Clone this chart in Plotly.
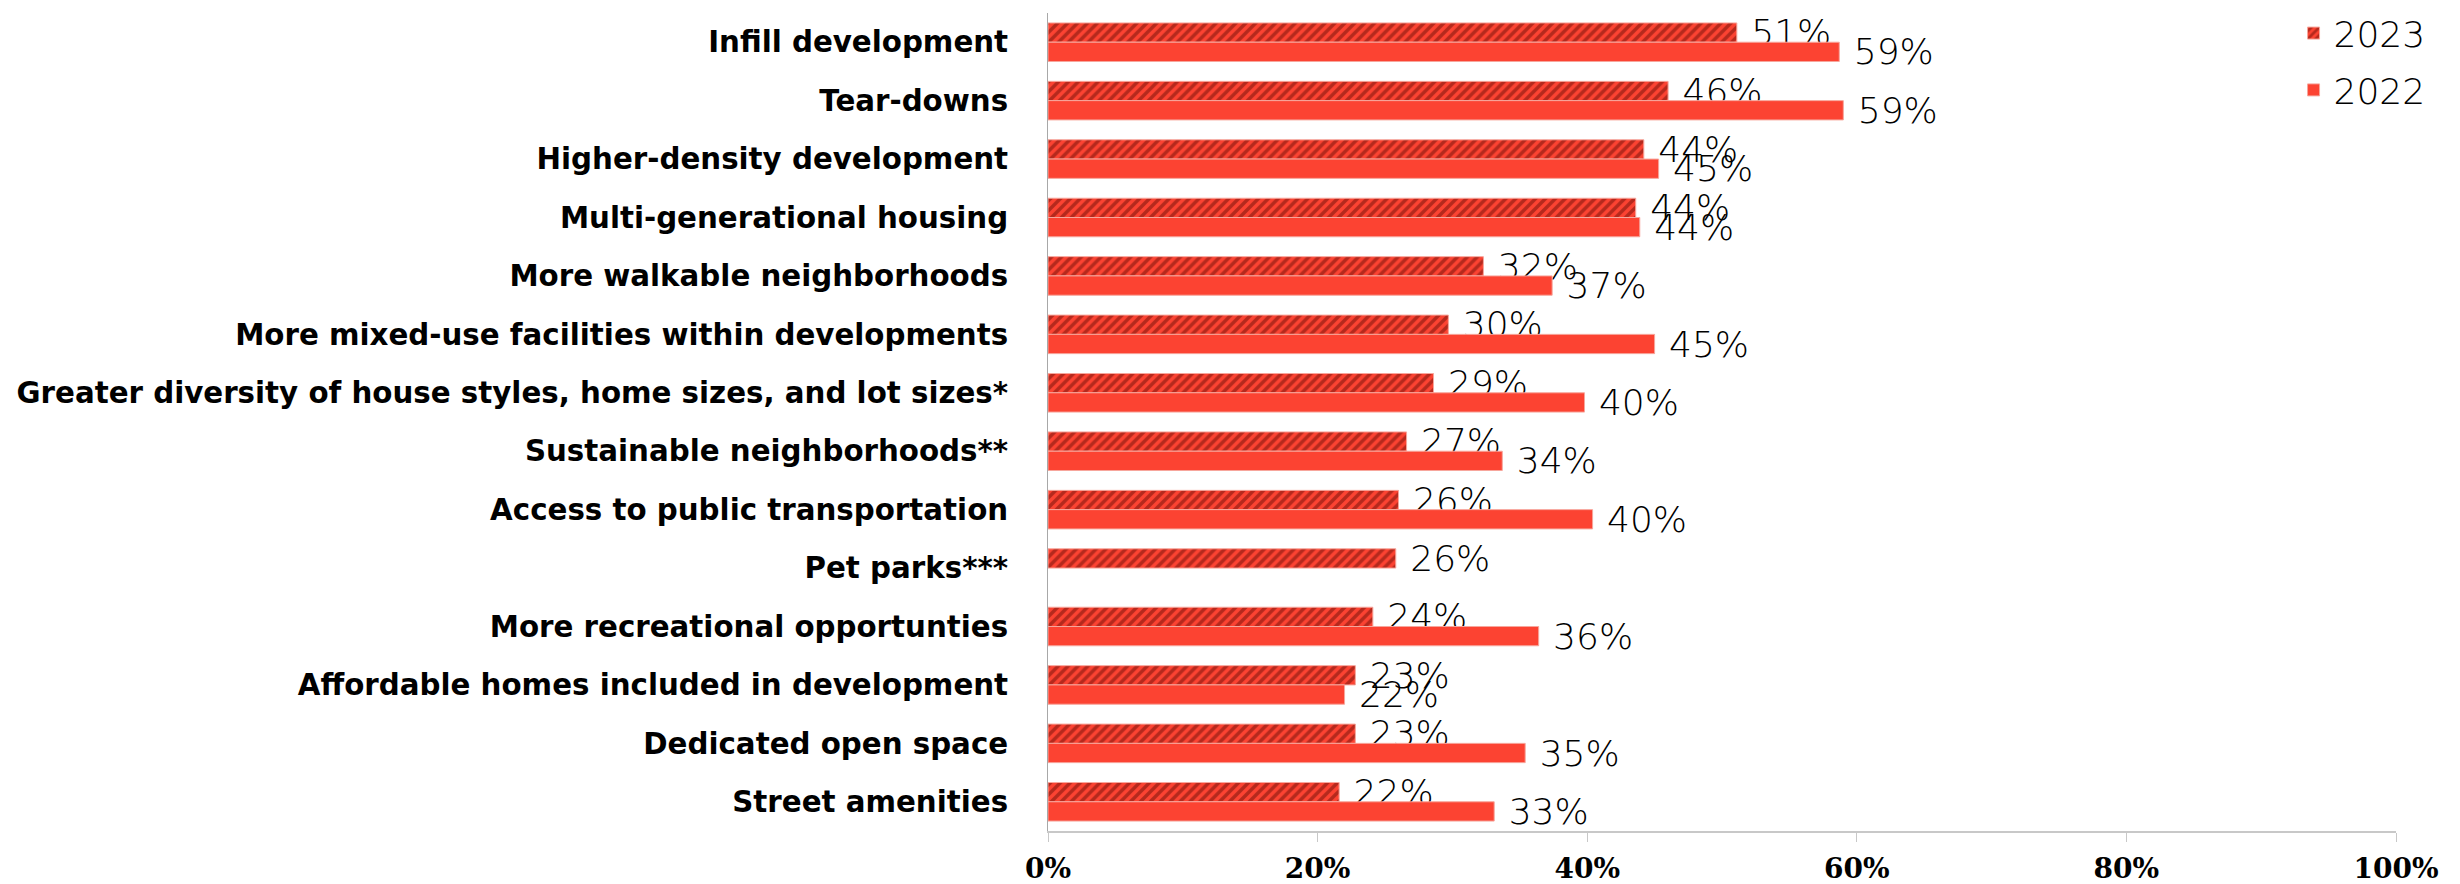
import plotly.graph_objects as go

categories = [
    "Infill development",
    "Tear-downs",
    "Higher-density development",
    "Multi-generational housing",
    "More walkable neighborhoods",
    "More mixed-use facilities within developments",
    "Greater diversity of house styles, home sizes, and lot sizes*",
    "Sustainable neighborhoods**",
    "Access to public transportation",
    "Pet parks***",
    "More recreational opportunties",
    "Affordable homes included in development",
    "Dedicated open space",
    "Street amenities",
]
values_2023 = [51.1, 46.0, 44.2, 43.6, 32.3, 29.7, 28.6, 26.6, 26.0, 25.8, 24.1, 22.8, 22.8, 21.6]
values_2022 = [58.7, 59.0, 45.3, 43.9, 37.4, 45.0, 39.8, 33.7, 40.4, None, 36.4, 22.0, 35.4, 33.1]
tick_vals = [0, 20, 40, 60, 80, 100]
tick_text = ["0%", "20%", "40%", "60%", "80%", "100%"]

RED = "#fc4332"
DARK = "#6e0f07"
light_family = "DejaVu Sans Light, DejaVu Sans ExtraLight, Inter"
label_font = dict(family=light_family, size=36, color="#000000", weight=200)

fig = go.Figure()
fig.add_trace(go.Bar(
    name="2023", y=categories, x=values_2023, orientation="h",
    legendgroup="a",
    marker=dict(color=RED, line=dict(color="#f7a69c", width=1),
                pattern=dict(shape="/", fgcolor=DARK, bgcolor=RED, size=7, solidity=0.5)),
    texttemplate="\u00a0%{x:.0f}%", textposition="outside", textfont=label_font,
    constraintext="none", cliponaxis=False,
))
fig.add_trace(go.Bar(
    name="2022", y=categories, x=values_2022, orientation="h",
    legendgroup="b",
    marker=dict(color=RED, line=dict(color="#f7a69c", width=1)),
    texttemplate="\u00a0%{x:.0f}%", textposition="outside", textfont=label_font,
    constraintext="none", cliponaxis=False,
))

fig.update_layout(
    width=2460, height=884,
    margin=dict(l=1048, r=64, t=3, b=53),
    barmode="group", bargap=0.34, bargroupgap=0.0,
    plot_bgcolor="white", paper_bgcolor="white",
    showlegend=True,
    legend=dict(x=0.924, y=1.012, xanchor="left", yanchor="top",
                font=dict(family=light_family, size=36, color="#000000", weight=200),
                bgcolor="rgba(0,0,0,0)", itemwidth=30, tracegroupgap=7),
)
fig.update_xaxes(
    range=[0, 100], tickvals=tick_vals, ticktext=tick_text,
    showgrid=False, zeroline=False, automargin=False,
    showline=True, linecolor="#c8c8c8", linewidth=2,
    ticks="outside", ticklen=9, tickcolor="#c8c8c8", tickwidth=1,
    tickfont=dict(family="DejaVu Serif", size=28, color="#000000", weight="bold"),
    ticklabelstandoff=2,
)
fig.update_yaxes(
    autorange="reversed", showgrid=False, zeroline=False, automargin=False,
    showline=True, linecolor="#a8a8a8", linewidth=1,
    ticks="", ticklabelstandoff=33,
    tickfont=dict(family="DejaVu Sans", size=29.3, color="#000000", weight="bold"),
)

fig.write_html(
    "out.html",
    config={"displayModeBar": False},
    post_script="document.body.style.margin='0';document.body.style.overflow='hidden';",
)
